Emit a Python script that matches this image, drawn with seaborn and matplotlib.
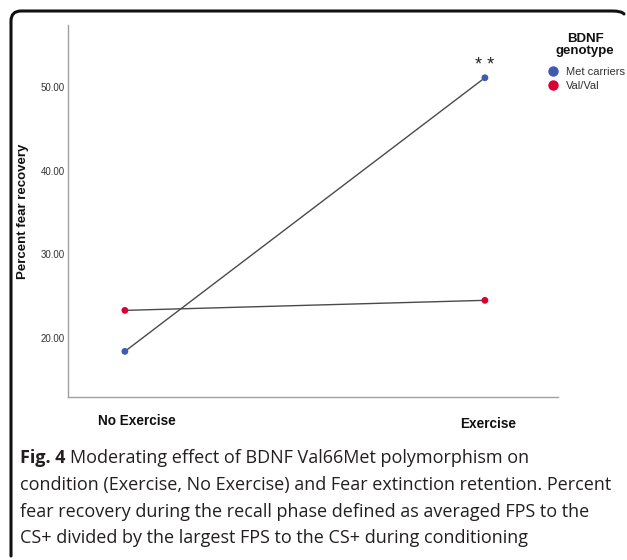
import matplotlib
matplotlib.use("Agg")
import matplotlib.pyplot as plt
import matplotlib.transforms as mtransforms
from matplotlib.path import Path
from matplotlib.patches import PathPatch
from matplotlib.lines import Line2D
import seaborn as sns
import pandas as pd

# ---- data ----
conditions = ["No Exercise", "Exercise"]
genotypes = ["Met carriers", "Val/Val"]
met_values = [18.4, 51.1]
val_values = [23.3, 24.5]
y_ticks = [20, 30, 40, 50]
y_tick_labels = ["20.00", "30.00", "40.00", "50.00"]
colors = {"Met carriers": "#3D5BB0", "Val/Val": "#DB0032"}

df = pd.DataFrame({
    "Condition": conditions * 2,
    "Percent": met_values + val_values,
    "Genotype": [genotypes[0]] * 2 + [genotypes[1]] * 2,
})

sns.set_style("white")
plt.rcParams["font.family"] = ["Liberation Sans", "DejaVu Sans"]

W, H = 627, 560
fig = plt.figure(figsize=(W / 100, H / 100), dpi=100)
ax = fig.add_axes([68 / W, 1 - 397 / H, 490 / W, 372 / H])

sns.lineplot(data=df, x="Condition", y="Percent", units="Genotype", estimator=None,
             color="#4a4a4a", lw=1.0, sort=False, legend=False, ax=ax, zorder=2)
sns.scatterplot(data=df, x="Condition", y="Percent", hue="Genotype", palette=colors,
                s=24, edgecolor="none", ax=ax, zorder=3, hue_order=genotypes, legend=False)

ax.set_xlim(-0.158, 1.203)
ax.set_ylim(12.95, 57.4)
ax.set_yticks(y_ticks)
ax.set_yticklabels(y_tick_labels, fontsize=7, color="#333333")
ax.set_xticks([0, 1])
ax.set_xticklabels(conditions, fontsize=9.8, fontweight="bold", color="#111111")
ax.tick_params(axis="both", length=0)
ax.tick_params(axis="y", pad=2.5)
ax.tick_params(axis="x", pad=12)
for lab, dx, dy in zip(ax.get_xticklabels(), [12, 3], [0, -3]):
    lab.set_transform(lab.get_transform() + mtransforms.ScaledTranslation(dx / 100, dy / 100, fig.dpi_scale_trans))
ax.set_xlabel("")
ax.set_ylabel("Percent fear recovery", fontsize=9.5, fontweight="bold", color="#111111", labelpad=8)
for s in ["top", "right"]:
    ax.spines[s].set_visible(False)
for s in ["left", "bottom"]:
    ax.spines[s].set_color("#a0a0a0")
    ax.spines[s].set_linewidth(1.0)

# significance
ax.annotate("* *", xy=(1, met_values[1]), xytext=(0, 9), textcoords="offset points",
            ha="center", va="center", fontsize=13, color="#222222")

# legend
fig.text(585 / W, 1 - 45 / H, "BDNF\ngenotype", ha="center", va="center",
         fontsize=9.5, fontweight="bold", color="#111111", linespacing=1.0)
handles = [Line2D([], [], ls="none", marker="o", markersize=7.5, markeredgewidth=0,
                  color=colors[g]) for g in genotypes]
leg = fig.legend(handles, genotypes, loc="center left", bbox_to_anchor=(547 / W, 1 - 79 / H),
                 frameon=False, fontsize=8, handletextpad=0.7,
                 labelspacing=0.4, handlelength=1.0, borderaxespad=0, borderpad=0)
for t in leg.get_texts():
    t.set_color("#333333")

# caption
cap_color = "#231F20"
cap_font = ["Open Sans", "DejaVu Sans"]
cap_size = 13
x0 = 20 / W
fig_r = fig.canvas.get_renderer()
t0 = fig.text(x0, 1 - 458 / H, "Fig. 4", fontsize=cap_size, fontweight="bold",
              family=cap_font, color=cap_color, va="center")
bb = t0.get_window_extent(renderer=fig_r)
fig.text(bb.x1 / W + 5 / W, 1 - 458 / H, "Moderating effect of BDNF Val66Met polymorphism on",
         fontsize=cap_size, family=cap_font, color=cap_color, va="center")
cap_lines = [
    "condition (Exercise, No Exercise) and Fear extinction retention. Percent",
    "fear recovery during the recall phase defined as averaged FPS to the",
    "CS+ divided by the largest FPS to the CS+ during conditioning",
]
for i, line in enumerate(cap_lines):
    fig.text(x0, 1 - (485 + 26.7 * i) / H, line, fontsize=cap_size, family=cap_font,
             color=cap_color, va="center")

# rounded frame (top and left sides)
def fy(y):
    return 1 - y / H
r = 10
verts = [
    (11 / W, fy(556)),
    (11 / W, fy(548)),
    (11 / W, fy(11 + r)),
    (11 / W, fy(11)), ((11 + r) / W, fy(11)),
    ((622 - r) / W, fy(11)),
    (622 / W, fy(11)), (624 / W, fy(14)),
]
codes = [Path.MOVETO, Path.LINETO, Path.LINETO, Path.CURVE3, Path.CURVE3,
         Path.LINETO, Path.CURVE3, Path.CURVE3]
fig.add_artist(PathPatch(Path(verts, codes), fill=False, lw=2.2, edgecolor="#111111",
                         transform=fig.transFigure, capstyle="round"))

fig.savefig("out.png", dpi=100)
